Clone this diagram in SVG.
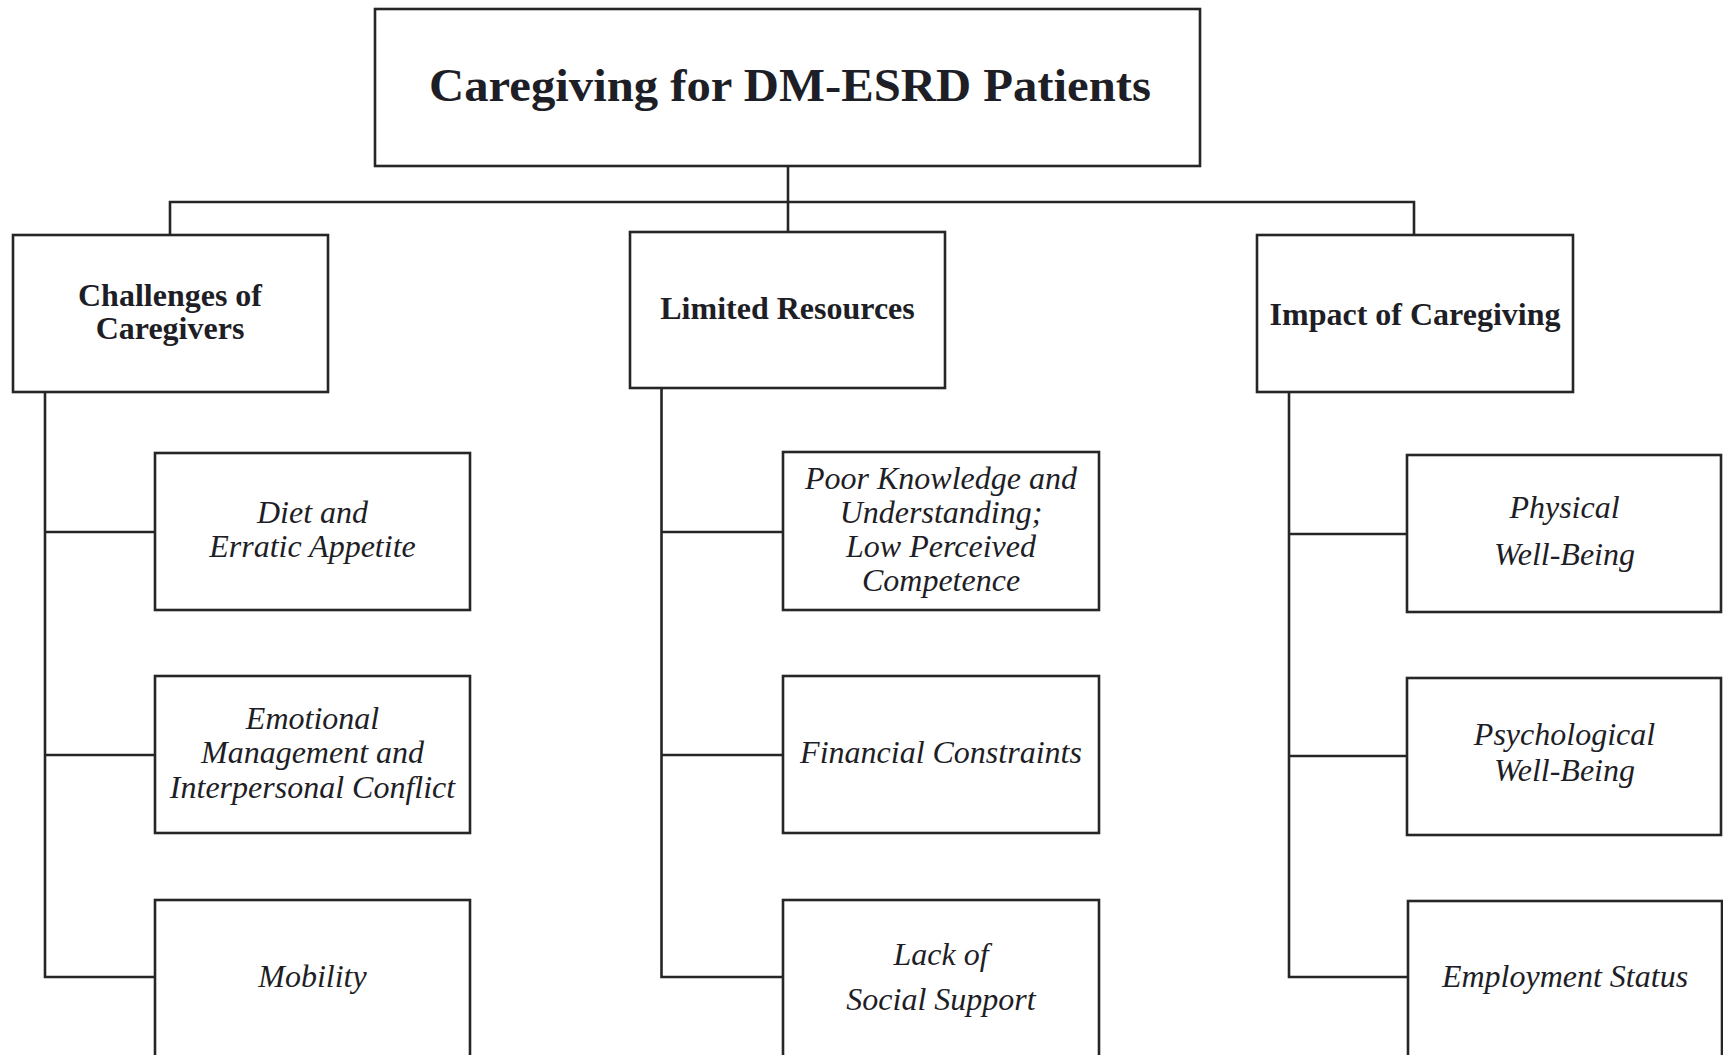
<svg xmlns="http://www.w3.org/2000/svg" width="1723" height="1055" viewBox="0 0 1723 1055">
<style>
.box{fill:#fff;stroke:#262626;stroke-width:2.6}
.ln{fill:none;stroke:#262626;stroke-width:2.6}
.t{font-family:"Liberation Serif","Times New Roman",serif;fill:#1e1e26;text-anchor:middle}
.b{font-weight:bold;font-size:32px}
.i{font-style:italic;font-size:32px}
.title{font-weight:bold;font-size:47px}
</style>
<rect width="1723" height="1055" fill="#fff"/>
<g id="connectors">
<path class="ln" d="M788,166 V232"/>
<path class="ln" d="M170,235 V202 H1414 V235"/>
<path class="ln" d="M45,392 V977 H155 M45,532 H155 M45,755 H155"/>
<path class="ln" d="M661.5,388 V977 H783 M661.5,532 H783 M661.5,755 H783"/>
<path class="ln" d="M1289,392 V977 H1407 M1289,534 H1407 M1289,756 H1407"/>
</g>
<g id="root">
<rect class="box" x="375" y="9" width="825" height="157"/>
<text class="t title" x="790" y="101" textLength="722" lengthAdjust="spacingAndGlyphs">Caregiving for DM-ESRD Patients</text>
</g>
<g id="challenges">
<rect class="box" x="13" y="235" width="315" height="157"/>
<text class="t b" x="170" y="306">Challenges of</text>
<text class="t b" x="170" y="339">Caregivers</text>
</g>
<g id="resources">
<rect class="box" x="630" y="232" width="315" height="156"/>
<text class="t b" x="787.5" y="319">Limited Resources</text>
</g>
<g id="impact">
<rect class="box" x="1257" y="235" width="316" height="157"/>
<text class="t b" x="1415" y="325">Impact of Caregiving</text>
</g>
<g id="diet">
<rect class="box" x="155" y="453" width="315" height="157"/>
<text class="t i" x="312.5" y="523">Diet and</text>
<text class="t i" x="312.5" y="557">Erratic Appetite</text>
</g>
<g id="emotional">
<rect class="box" x="155" y="676" width="315" height="157"/>
<text class="t i" x="312.5" y="729">Emotional</text>
<text class="t i" x="312.5" y="763">Management and</text>
<text class="t i" x="312.5" y="798">Interpersonal Conflict</text>
</g>
<g id="mobility">
<rect class="box" x="155" y="900" width="315" height="165"/>
<text class="t i" x="312.5" y="987">Mobility</text>
</g>
<g id="knowledge">
<rect class="box" x="783" y="452" width="316" height="158"/>
<text class="t i" x="941" y="489">Poor Knowledge and</text>
<text class="t i" x="941" y="523">Understanding;</text>
<text class="t i" x="941" y="557">Low Perceived</text>
<text class="t i" x="941" y="591">Competence</text>
</g>
<g id="financial">
<rect class="box" x="783" y="676" width="316" height="157"/>
<text class="t i" x="941" y="763">Financial Constraints</text>
</g>
<g id="social">
<rect class="box" x="783" y="900" width="316" height="165"/>
<text class="t i" x="941" y="965">Lack of</text>
<text class="t i" x="941" y="1010">Social Support</text>
</g>
<g id="physical">
<rect class="box" x="1407" y="455" width="314" height="157"/>
<text class="t i" x="1564.5" y="518">Physical</text>
<text class="t i" x="1564.5" y="565">Well-Being</text>
</g>
<g id="psychological">
<rect class="box" x="1407" y="678" width="314" height="157"/>
<text class="t i" x="1564.5" y="745">Psychological</text>
<text class="t i" x="1564.5" y="781">Well-Being</text>
</g>
<g id="employment">
<rect class="box" x="1408" y="901" width="314" height="165"/>
<text class="t i" x="1565" y="987">Employment Status</text>
</g>
</svg>
